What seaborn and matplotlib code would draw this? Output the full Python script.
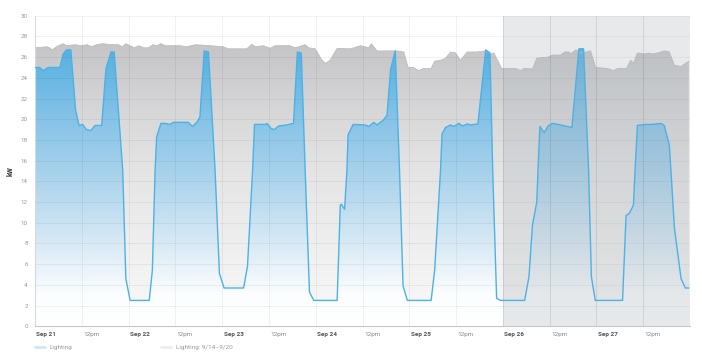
import numpy as np
import pandas as pd
import matplotlib
matplotlib.use("Agg")
import matplotlib.pyplot as plt
import matplotlib.transforms as mtransforms
from matplotlib.colors import LinearSegmentedColormap
from matplotlib.lines import Line2D
import seaborn as sns

# ---------------- data (hours since Sep 21 00:00, kW) ----------------
blue_hours = [
    0, 1.2, 2.1, 3.4, 6.4, 7.2, 8.1, 9.2, 10.4, 11.3, 12.2, 13.2, 14.3, 15.4, 17.1, 18.2, 19.5, 20.3, 22.5, 23.3,
    24.4, 29.3, 30.1, 30.8, 31.2, 32.3, 33.5, 34.6, 35.5, 39.3, 40.4, 41.5, 42.3, 43.4, 44.5, 46.2, 47.3,
    48.5, 53.5, 54.5, 55.8, 56.3, 59.1, 59.5, 60.6, 61.4, 62.5, 64.6, 66.3, 67.3, 68.3, 69.3, 70.4, 71.5,
    77.5, 78.3, 78.6, 79.4, 80.0, 80.3, 81.6, 84.7, 85.6, 86.9, 87.7, 89.3, 90.3, 91.2, 92.4, 93.5, 94.4, 95.5,
    101.6, 102.5, 104.0, 104.4, 105.3, 106.6, 107.4, 108.7, 109.6, 110.9, 111.7, 113.6, 115.6, 116.7, 117.4, 118.4, 119.4,
    125.6, 126.7, 127.6, 128.7, 129.0, 129.5, 130.6, 131.6, 132.7, 134.8, 137.7, 139.5, 140.7, 142.0, 142.7, 143.7,
    150.7, 151.6, 152.4, 153.5, 153.9, 154.5, 156.7, 158.4, 160.5, 161.4, 162.7, 163.2, 164.0, 165.7, 166.8, 167.7,
]
blue_kw = [
    25.0, 25.0, 24.7, 25.0, 25.0, 26.3, 26.7, 26.7, 20.9, 19.4, 19.5, 19.0, 18.9, 19.4, 19.4, 24.9, 26.5, 26.5, 15.1, 4.6,
    2.5, 2.5, 5.4, 15.0, 18.3, 19.6, 19.6, 19.5, 19.7, 19.7, 19.3, 19.7, 20.2, 26.6, 26.5, 15.0, 5.1,
    3.7, 3.7, 5.8, 15.0, 19.5, 19.5, 19.6, 19.1, 19.0, 19.35, 19.45, 19.6, 26.5, 26.4, 15.0, 3.3, 2.5,
    2.5, 11.7, 11.8, 11.3, 15.0, 18.5, 19.5, 19.45, 19.3, 19.7, 19.45, 19.9, 20.4, 24.8, 26.6, 15.0, 3.9, 2.5,
    2.5, 5.4, 15.0, 18.6, 19.2, 19.45, 19.3, 19.6, 19.35, 19.55, 19.45, 19.55, 26.7, 26.4, 15.0, 2.7, 2.5,
    2.5, 4.8, 9.8, 12.0, 15.0, 19.3, 18.7, 19.35, 19.6, 19.45, 19.2, 26.8, 26.8, 15.0, 4.8, 2.5,
    2.5, 10.7, 10.9, 11.7, 15.0, 19.4, 19.5, 19.5, 19.6, 19.4, 17.5, 14.5, 9.5, 4.6, 3.7, 3.7,
]

gray_hours = [
    0, 1.7, 3.0, 3.8, 4.4, 5.5, 7.2, 8.1, 10.2, 11.9, 13.4, 14.5, 15.8, 17.5, 19.2, 21.4, 22.4, 23.3,
    24.4, 25.5, 26.5, 28.0, 29.1, 30.3, 31.2, 32.3, 33.4, 37.2, 38.9, 41.1, 44.9,
    48.3, 49.6, 54.3, 55.6, 56.5, 58.6, 60.3, 61.6, 65.5, 66.7, 69.3, 70.2, 71.9,
    73.6, 74.5, 75.7, 77.5, 80.9, 83.5, 84.7, 85.6, 86.3, 87.7, 89.4, 92.9, 94.6, 95.7,
    97.1, 98.4, 99.6, 101.6, 102.5, 104.0, 105.3, 106.6, 107.9, 109.1, 110.9, 113.4, 115.6, 116.9, 117.7, 119.7,
    123.3, 124.6, 125.4, 127.6, 128.7, 131.6, 132.7, 134.8, 135.9, 137.0, 137.4, 138.7, 140.0, 141.3, 142.5, 143.8,
    146.8, 148.4, 149.4, 151.7, 152.8, 153.5, 154.5, 156.2, 157.5, 158.4, 159.7, 161.4, 162.7, 164.0, 165.7, 167.7,
]
gray_kw = [
    26.9, 26.95, 27.0, 26.9, 26.7, 27.0, 27.3, 27.1, 27.2, 27.1, 27.2, 27.0, 27.2, 27.3, 27.2, 27.2, 27.0, 27.3,
    27.1, 26.9, 27.1, 26.9, 26.9, 27.2, 27.1, 27.3, 27.1, 27.1, 27.0, 27.2, 27.1,
    27.0, 26.8, 26.8, 27.25, 27.0, 27.1, 26.85, 27.1, 27.1, 26.9, 27.2, 26.9, 26.8,
    25.7, 25.4, 25.7, 26.85, 26.8, 27.1, 27.0, 26.9, 27.3, 26.6, 26.6, 26.6, 26.5, 25.0,
    25.0, 24.7, 24.9, 24.9, 25.6, 25.7, 25.9, 26.5, 26.4, 25.7, 26.5, 26.5, 26.6, 26.3, 26.4, 24.9,
    24.9, 24.7, 24.9, 24.85, 25.9, 26.0, 26.2, 26.2, 26.5, 26.5, 26.3, 26.7, 26.4, 26.5, 26.6, 25.0,
    24.9, 24.7, 24.9, 24.9, 25.7, 25.4, 26.4, 26.3, 26.4, 26.3, 26.4, 26.6, 26.5, 25.2, 25.1, 25.6,
]

tick_hours = [0, 12, 24, 36, 48, 60, 72, 84, 96, 108, 120, 132, 144, 156]
tick_labels = ["Sep 21", "12pm", "Sep 22", "12pm", "Sep 23", "12pm", "Sep 24", "12pm",
               "Sep 25", "12pm", "Sep 26", "12pm", "Sep 27", "12pm"]
y_ticks = list(range(0, 31, 2))
highlight_start = 120   # Sep 26 00:00
x_end = 168
series_names = ["Lighting", "Lighting: 9/14\u20139/20"]

# ---------------- style ----------------
sns.set_style("white")
plt.rcParams["font.family"] = ["Roboto", "DejaVu Sans"]

W, H = 702, 355
fig = plt.figure(figsize=(W / 100, H / 100), dpi=100)
L, R, T, B = 35, 690, 15.7, 326.3
ax = fig.add_axes([L / W, 1 - B / H, (R - L) / W, (B - T) / H])

df_blue = pd.DataFrame({"hour": blue_hours, "kW": blue_kw})
df_gray = pd.DataFrame({"hour": gray_hours, "kW": gray_kw})


def grad_fill(df, stops, z):
    coll = ax.fill_between(df["hour"], 0, df["kW"], facecolor="none", edgecolor="none", zorder=z)
    cmap = LinearSegmentedColormap.from_list("g", [(v / 30.0, c) for v, c in stops])
    img = ax.imshow(np.linspace(0, 1, 400).reshape(-1, 1), cmap=cmap, aspect="auto",
                    origin="lower", extent=[0, x_end, 0, 30], zorder=z, interpolation="bilinear")
    img.set_clip_path(coll.get_paths()[0], transform=ax.transData)


gray_stops = [(0, "#f9f9f9"), (4, "#f4f4f4"), (10, "#ececec"), (15, "#e4e4e5"),
              (20, "#d9d9da"), (25, "#cbcbcd"), (27, "#c6c6c8"), (30, "#c2c2c4")]
blue_stops = [(0, "#ffffff"), (3, "#fbfdfe"), (6, "#e6f1f8"), (10, "#c9e2f2"), (15, "#a6d1eb"),
              (20, "#86c3e7"), (25, "#62b5e3"), (27, "#56b0e1"), (30, "#4dace0")]

grad_fill(df_gray, gray_stops, 1)
grad_fill(df_blue, blue_stops, 2)

sns.lineplot(data=df_gray, x="hour", y="kW", ax=ax, color="#bdbdbf", lw=0.6,
             estimator=None, sort=False, zorder=3, legend=False)
sns.lineplot(data=df_blue, x="hour", y="kW", ax=ax, color="#4cb2e5", lw=1.0,
             estimator=None, sort=False, zorder=5, legend=False)

# comparison-period shading
ax.axvspan(highlight_start, x_end, color="#aab2b8", alpha=0.28, lw=0, zorder=4)
ax.vlines([t for t in tick_hours if t >= highlight_start] + [x_end], 0, 30,
          color="#000000", alpha=0.06, lw=0.6, zorder=4.5)

ax.set_xlim(0, x_end)
ax.set_ylim(0, 30)
ax.set_xticks(tick_hours)
ax.set_xticklabels(tick_labels)
ax.set_yticks(y_ticks)
ax.set_axisbelow(False)
ax.grid(True, color="#000000", alpha=0.06, lw=0.6)
ax.set_xlabel("")
ax.set_ylabel("kW", fontsize=5, fontweight="bold", color="#333333")
ax.yaxis.set_label_coords((14.5 - L) / (R - L), 0.5)

for s in ["top", "right"]:
    ax.spines[s].set_visible(False)
ax.spines["left"].set_color("#e4e4e4")
ax.spines["left"].set_linewidth(0.8)
ax.spines["bottom"].set_color("#c8c8c8")
ax.spines["bottom"].set_linewidth(0.8)

ax.tick_params(axis="x", length=2.2, width=0.6, color="#cccccc", labelsize=4.6, pad=1.6)
ax.tick_params(axis="y", length=2.2, width=0.6, color="#dddddd", labelsize=4.5,
               labelcolor="#999999", pad=3.0)

offset = mtransforms.ScaledTranslation(1.5 / 100, 0, fig.dpi_scale_trans)
for lab in ax.get_xticklabels():
    lab.set_horizontalalignment("left")
    lab.set_transform(lab.get_transform() + offset)
    if lab.get_text().startswith("Sep"):
        lab.set_fontweight("bold")
        lab.set_color("#555555")
    else:
        lab.set_color("#8a8a8a")

handles = [Line2D([], [], color="#cfe8f7", lw=2), Line2D([], [], color="#ececec", lw=2)]
ax.legend(handles=handles, labels=series_names, loc="center left",
          bbox_to_anchor=(L / W, 1 - 347 / H), bbox_transform=fig.transFigure,
          ncol=2, frameon=False, fontsize=4.6, handlelength=1.56, handletextpad=0.78,
          columnspacing=13.8, borderpad=0, borderaxespad=0, labelcolor="#999999")

fig.savefig("out.png", dpi=100)
